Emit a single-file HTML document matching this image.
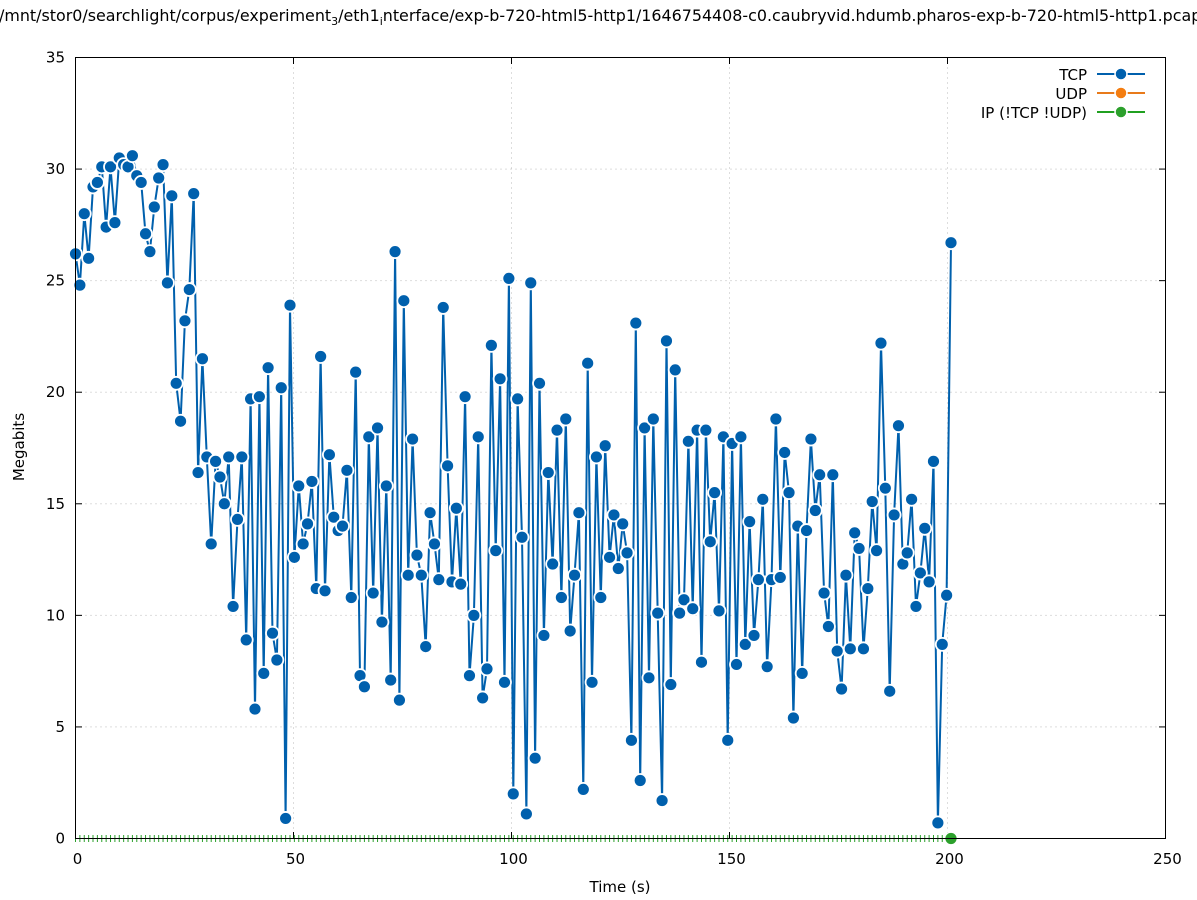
<!DOCTYPE html>
<html><head><meta charset="utf-8"><style>
html,body{margin:0;padding:0;background:#fff;}
svg{display:block;font-family:"DejaVu Sans","Liberation Sans",sans-serif;}
</style></head><body>
<svg id="c" width="1197" height="900" xmlns="http://www.w3.org/2000/svg">
<rect width="1197" height="900" fill="#fff"/>
<g id="grid"></g>
<g id="axes"></g>
<g id="series"></g>
<rect x="75.5" y="57.5" width="1090" height="781" fill="none" stroke="#000" stroke-width="1"/>
<text x="-1" y="21" font-size="15.9" fill="#000">/mnt/stor0/searchlight/corpus/experiment<tspan font-size="11" dy="4">3</tspan><tspan dy="-4">/eth1</tspan><tspan font-size="11" dy="4">i</tspan><tspan dy="-4">nterface/exp-b-720-html5-http1/1646754408-c0.caubryvid.hdumb.pharos-exp-b-720-html5-http1.pcap</tspan></text>
<text x="620" y="892" font-size="15" text-anchor="middle">Time (s)</text>
<text transform="translate(24,447) rotate(-90)" font-size="15" text-anchor="middle">Megabits</text>
<g font-size="15" text-anchor="end">
<text x="1087" y="80">TCP</text>
<text x="1087" y="99">UDP</text>
<text x="1087" y="118">IP (!TCP  !UDP)</text>
</g>
<line x1="1097" y1="74" x2="1145" y2="74" stroke="#0060ad" stroke-width="2"/>
<circle cx="1121" cy="74" r="6" fill="#0060ad" stroke="#fff" stroke-width="1.5"/>
<line x1="1097" y1="93" x2="1145" y2="93" stroke="#e87a1a" stroke-width="2"/>
<circle cx="1121" cy="93" r="6" fill="#f47d10" stroke="#fff" stroke-width="1.5"/>
<line x1="1097" y1="112" x2="1145" y2="112" stroke="#20a020" stroke-width="2"/>
<circle cx="1121" cy="112" r="6" fill="#2ca02c" stroke="#fff" stroke-width="1.5"/>
</svg>
<script>
var d=[26.2,24.8,28.0,26.0,29.2,29.4,30.1,27.4,30.1,27.6,30.5,30.2,30.1,30.6,29.7,29.4,27.1,26.3,28.3,29.6,30.2,24.9,28.8,20.4,18.7,23.2,24.6,28.9,16.4,21.5,17.1,13.2,16.9,16.2,15.0,17.1,10.4,14.3,17.1,8.9,19.7,5.8,19.8,7.4,21.1,9.2,8.0,20.2,0.9,23.9,12.6,15.8,13.2,14.1,16.0,11.2,21.6,11.1,17.2,14.4,13.8,14.0,16.5,10.8,20.9,7.3,6.8,18.0,11.0,18.4,9.7,15.8,7.1,26.3,6.2,24.1,11.8,17.9,12.7,11.8,8.6,14.6,13.2,11.6,23.8,16.7,11.5,14.8,11.4,19.8,7.3,10.0,18.0,6.3,7.6,22.1,12.9,20.6,7.0,25.1,2.0,19.7,13.5,1.1,24.9,3.6,20.4,9.1,16.4,12.3,18.3,10.8,18.8,9.3,11.8,14.6,2.2,21.3,7.0,17.1,10.8,17.6,12.6,14.5,12.1,14.1,12.8,4.4,23.1,2.6,18.4,7.2,18.8,10.1,1.7,22.3,6.9,21.0,10.1,10.7,17.8,10.3,18.3,7.9,18.3,13.3,15.5,10.2,18.0,4.4,17.7,7.8,18.0,8.7,14.2,9.1,11.6,15.2,7.7,11.6,18.8,11.7,17.3,15.5,5.4,14.0,7.4,13.8,17.9,14.7,16.3,11.0,9.5,16.3,8.4,6.7,11.8,8.5,13.7,13.0,8.5,11.2,15.1,12.9,22.2,15.7,6.6,14.5,18.5,12.3,12.8,15.2,10.4,11.9,13.9,11.5,16.9,0.7,8.7,10.9,26.7];
var NS="http://www.w3.org/2000/svg";
function X(t){return 75.5+t*1090/250;}
function P(i){return 75.5+i*(951-75.5)/200;}
function Y(v){return 838.5-v*781/35;}
function el(p,n,a){var e=document.createElementNS(NS,n);for(var k in a)e.setAttribute(k,a[k]);p.appendChild(e);return e;}
var g=document.getElementById('grid'),ax=document.getElementById('axes'),s=document.getElementById('series');
for(var v=0;v<=35;v+=5){var y=Y(v);
 if(v>0&&v<35)el(g,'line',{x1:75.5,x2:1165.5,y1:y,y2:y,stroke:'#bbb','stroke-dasharray':'1,4'});
 el(ax,'line',{x1:75.5,x2:82,y1:y,y2:y,stroke:'#000'});el(ax,'line',{x1:1159,x2:1165.5,y1:y,y2:y,stroke:'#000'});
 var t=el(ax,'text',{x:65,y:y+5,'font-size':15,'text-anchor':'end'});t.textContent=v;}
for(var t=0;t<=250;t+=50){var x=X(t);
 if(t>0&&t<250)el(g,'line',{x1:x,x2:x,y1:57.5,y2:838.5,stroke:'#bbb','stroke-dasharray':'1,4'});
 el(ax,'line',{x1:x,x2:x,y1:838.5,y2:832,stroke:'#000'});el(ax,'line',{x1:x,x2:x,y1:57.5,y2:64,stroke:'#000'});
 var tx=el(ax,'text',{x:x+2,y:864,'font-size':15,'text-anchor':'middle'});tx.textContent=t;}
var pts=d.map(function(v,i){return P(i).toFixed(1)+','+Y(v).toFixed(1);}).join(' ');
for(var i=0;i<=200;i++){el(s,'line',{x1:P(i),x2:P(i),y1:835,y2:842,stroke:'#2ca02c','stroke-width':1});}
el(s,'polyline',{points:pts,fill:'none',stroke:'#0060ad','stroke-width':2,'stroke-linejoin':'miter'});
d.forEach(function(v,i){el(s,'circle',{cx:P(i),cy:Y(v),r:6.5,fill:'#0060ad',stroke:'#fff','stroke-width':1.8});});
el(s,'circle',{cx:P(200),cy:Y(0),r:6.5,fill:'#2ca02c',stroke:'#fff','stroke-width':1.8});
</script>
</body></html>
